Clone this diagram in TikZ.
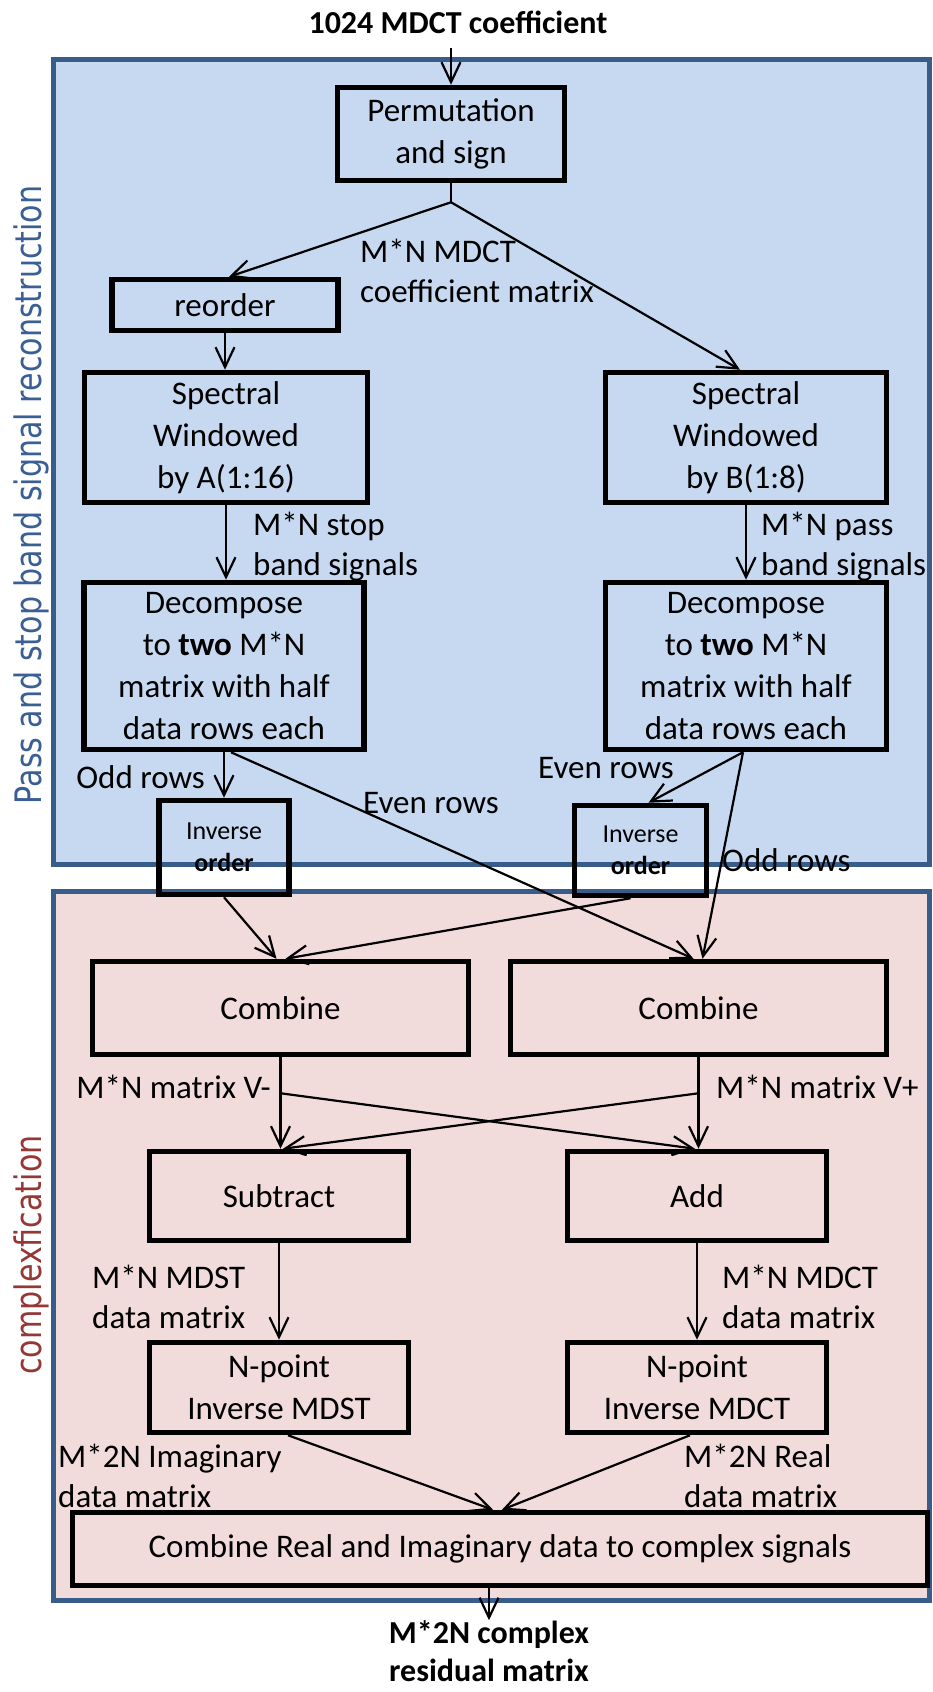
\documentclass[tikz,border=0pt]{standalone}
\usepackage{fontspec}
\setmainfont{Carlito}
\newfontfamily\sidefont{DejaVu Sans}
\usetikzlibrary{arrows.meta,calc}
\definecolor{panelblue}{HTML}{C6D9F1}
\definecolor{panelpink}{HTML}{F2DCDB}
\definecolor{frameblue}{HTML}{385D8A}
\definecolor{sideblue}{HTML}{3A5F95}
\definecolor{sidered}{HTML}{953735}
\begin{document}
\begin{tikzpicture}[x=1pt, y=-1pt,
  box/.style={draw, line width=5.5pt, inner sep=0pt, align=center,
              font=\fontsize{33}{42}\selectfont},
  smallbox/.style={box, font=\fontsize{26}{32}\selectfont},
  lbl/.style={inner sep=0pt, align=left, font=\fontsize{33}{40}\selectfont},
  headlbl/.style={inner sep=0pt, align=center, font=\bfseries\fontsize{32}{38}\selectfont},
  sidelbl/.style={rotate=90, xscale=0.825, anchor=base, inner sep=0pt,
                  font=\sidefont\fontsize{36.5}{40}\selectfont},
  conn/.style={line width=2.2pt, -{Straight Barb[length=20pt,width=19pt]}},
  plain/.style={line width=2.2pt},
  panel/.style={draw=frameblue, line width=5pt}
]
% canvas
\fill[white] (0,0) rectangle (932,1692);
\useasboundingbox (0,0) rectangle (932,1692);

% the two stage panels
\filldraw[panel, fill=panelblue] (53,59) rectangle (929.5,864);
\filldraw[panel, fill=panelpink] (53,891) rectangle (929.5,1600);

% stage names
\node[sidelbl, text=sideblue] (sideA) at (41,495) {Pass and stop band signal reconstruction};
\node[sidelbl, text=sidered] (sideB) at (41,1255) {complexfication};

% input and output
\node[headlbl] (title) at (458,22) {1024 MDCT coefficient};
\node[headlbl] (out) at (489,1651) {M*2N complex\\residual matrix};

% processing blocks
\node[box, minimum width=227pt, minimum height=93pt] (perm) at (451,134) {Permutation\\and sign};
\node[box, minimum width=226pt, minimum height=51pt] (reorder) at (225,305) {reorder};
\node[box, minimum width=283pt, minimum height=130pt] (specA) at (226,437.5) {Spectral\\Windowed\\by A(1:16)};
\node[box, minimum width=281pt, minimum height=130pt] (specB) at (746,437.5) {Spectral\\Windowed\\by B(1:8)};
\node[box, minimum width=280pt, minimum height=167pt] (decA) at (224,666) {Decompose\\to \textbf{two} M*N\\matrix with half\\data rows each};
\node[box, minimum width=281pt, minimum height=167pt] (decB) at (746,666) {Decompose\\to \textbf{two} M*N\\matrix with half\\data rows each};
\node[smallbox, minimum width=130pt, minimum height=94pt] (invA) at (224,847.5) {Inverse\\\textbf{order}};
\node[smallbox, minimum width=132pt, minimum height=90pt] (invB) at (640.5,850.5) {Inverse\\\textbf{order}};
\node[box, minimum width=376pt, minimum height=93pt] (combA) at (280.5,1008) {Combine};
\node[box, minimum width=376pt, minimum height=93pt] (combB) at (698.5,1008) {Combine};
\node[box, minimum width=259pt, minimum height=89pt] (sub) at (279,1196) {Subtract};
\node[box, minimum width=259pt, minimum height=89pt] (add) at (697,1196) {Add};
\node[box, minimum width=259pt, minimum height=90pt] (mdst) at (279,1387.5) {N-point\\Inverse MDST};
\node[box, minimum width=259pt, minimum height=90pt] (mdct) at (697,1387.5) {N-point\\Inverse MDCT};
\node[box, minimum width=855pt, minimum height=73pt] (final) at (500,1549) {Combine Real and Imaginary data to complex signals};

% connectors
\draw[conn] ($(title.south -| perm.north)+(0,14)$) -- (perm.north);
\coordinate (split) at ($(perm.south)+(0,19)$);
\draw[plain] (perm.south) -- (split);
\draw[conn] (split) -- ($(reorder.north)+(4,0)$);
\draw[conn] (split) -- ($(specB.north)+(-6,0)$);
\draw[conn] (reorder.south) -- (reorder.south |- specA.north);
\draw[conn] (specA.south) -- (specA.south |- decA.north);
\draw[conn] (specB.south) -- (decB.north);
\draw[conn] (decA.south) -- (decA.south |- invA.north);
\draw[conn] ($(decA.south)+(7,0)$) -- ($(combB.north)+(-5,0)$);
\draw[conn] ($(decB.south)+(-3,0)$) -- ($(invB.north)+(8,0)$);
\draw[conn] ($(decB.south)+(-3,0)$) -- ($(combB.north)+(4,0)$);
\draw[conn] (invA.south) -- ($(combA.north)+(-4,0)$);
\draw[conn] ($(invB.south)+(-10,0)$) -- ($(combA.north)+(5,0)$);
\draw[conn] (combA.south) -- (combA.south |- sub.north);
\coordinate (vm) at ($(combA.south)+(0,36)$);
\draw[conn] (vm) -- ($(add.north)+(-2,0)$);
\draw[conn] (combB.south) -- (combB.south |- add.north);
\coordinate (vp) at ($(combB.south)+(0,36)$);
\draw[conn] (vp) -- ($(sub.north)+(4,0)$);
\draw[conn] (sub.south) -- (mdst.north);
\draw[conn] (add.south) -- (mdct.north);
\draw[conn] ($(mdst.south)+(9,0)$) -- ($(final.north)+(-7,0)$);
\draw[conn] ($(mdct.south)+(-7,0)$) -- ($(final.north)+(2,0)$);
\draw[conn] (out.north |- final.south) -- (out.north);

% connector labels
\node[lbl, anchor=west] (lcoef) at (360,271) {M*N MDCT\\coefficient matrix};
\node[lbl, anchor=west] (lstop) at (253,547) {M*N stop\\band signals};
\node[lbl, anchor=west] (lpass) at (761,547) {M*N pass\\band signals};
\node[lbl, anchor=east] (loddA) at (205,777) {Odd rows};
\node[lbl, anchor=west] (levenA) at (363,803) {Even rows};
\node[lbl, anchor=west] (levenB) at (538,768) {Even rows};
\node[lbl, anchor=west] (loddB) at (722,860) {Odd rows};
\node[lbl, anchor=east] (lvm) at (271,1087) {M*N matrix V-};
\node[lbl, anchor=west] (lvp) at (716,1087) {M*N matrix V+};
\node[lbl, anchor=west] (lmdst) at (92,1297) {M*N MDST\\data matrix};
\node[lbl, anchor=west] (lmdct) at (722,1297) {M*N MDCT\\data matrix};
\node[lbl, anchor=west] (limag) at (58,1476) {M*2N Imaginary\\data matrix};
\node[lbl, anchor=west] (lreal) at (684,1476) {M*2N Real\\data matrix};
\end{tikzpicture}
\end{document}
